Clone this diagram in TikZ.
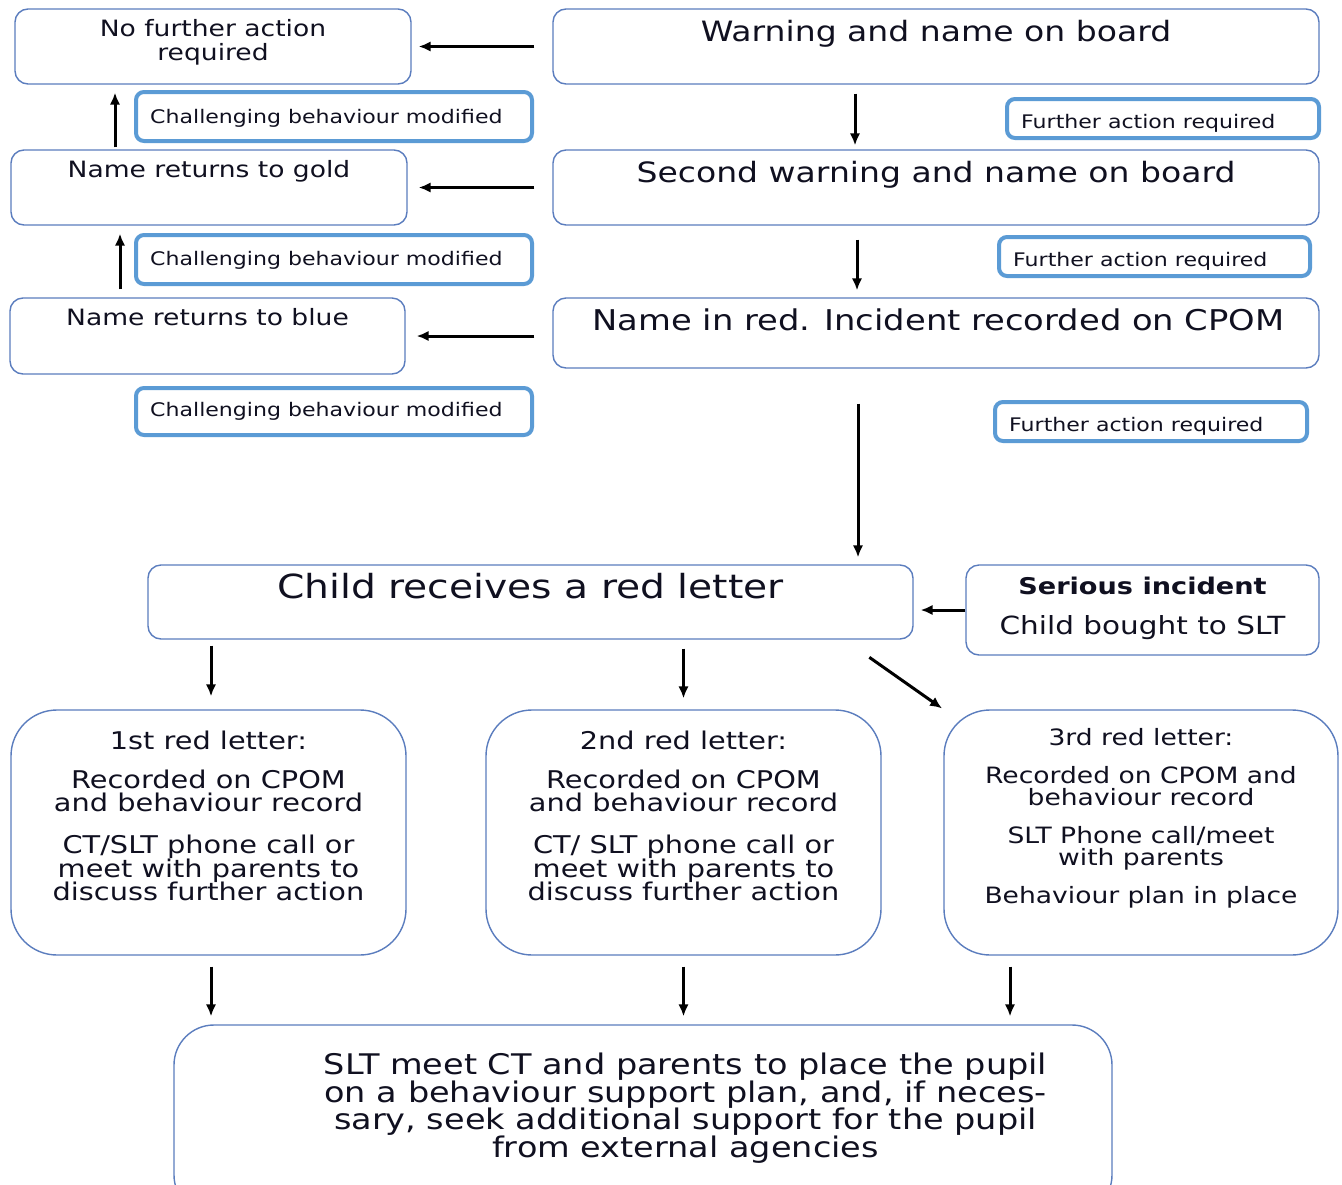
\documentclass[tikz,border=0pt]{standalone}
\usepackage{fontspec}
\setmainfont{DejaVu Sans}[FakeStretch=1.18]
\newfontfamily\plainfont{DejaVu Sans}
\usetikzlibrary{arrows.meta,positioning}
\definecolor{boxline}{HTML}{5B7DBE}
\definecolor{flagline}{HTML}{5B9BD5}
\definecolor{ink}{HTML}{101020}
\begin{document}
\lineskiplimit=-100pt
\begin{tikzpicture}[x=1pt,y=-1pt,
	box/.style={draw=boxline,line width=1.4pt,rounded corners=13pt,inner sep=0pt},
	roundbox/.style={box,rounded corners=46pt},
	flag/.style={draw=flagline,line width=4pt,rounded corners=8pt,inner sep=0pt},
	big/.style={font=\fontsize{28}{30}\selectfont,text=ink,inner sep=0pt},
	mid/.style={font=\fontsize{22.5}{23.5}\selectfont,text=ink,align=center,inner sep=0pt},
	small/.style={font=\fontsize{18.7}{20}\selectfont,text=ink,inner sep=0pt},
	arr/.style={-{Latex[length=12pt,width=10.5pt]},line width=3pt}]
	\fill[white] (0,0) rectangle (1342,1184);
	\clip (0,0) rectangle (1342,1184);
	%top ladder
	\node[box,minimum width=396pt,minimum height=75pt] (nofurther) at (213,46.5) {};
	\node[box,minimum width=766pt,minimum height=75pt] (warning) at (936,46.5) {};
	\node[box,minimum width=396pt,minimum height=75pt] (gold) at (209,187.5) {};
	\node[box,minimum width=766pt,minimum height=75pt] (second) at (936,187.5) {};
	\node[box,minimum width=395pt,minimum height=76pt] (blue) at (207.5,336) {};
	\node[box,minimum width=766pt,minimum height=70pt] (red) at (936,333) {};
	\node[mid,anchor=north] (nofurther-t) at ([yshift=-11pt]nofurther.north) {No further action\\required};
	\node[big,anchor=base] (warning-t) at ([yshift=-33pt]warning.north) {Warning and name on board};
	\node[mid,anchor=base] (gold-t) at ([yshift=-28.2pt]gold.north) {Name returns to gold};
	\node[big,anchor=base] (second-t) at ([yshift=-33pt]second.north) {Second warning and name on board};
	\node[mid,anchor=base] (blue-t) at ([yshift=-28.2pt]blue.north) {Name returns to blue};
	\node[big,font=\fontsize{28.6}{30}\selectfont,anchor=base] (red-t) at ([yshift=-33pt,xshift=2.5pt]red.north) {Name in red. Incident recorded on CPOM};
	%flags
	\node[flag,minimum width=396pt,minimum height=49pt] (modA) at (334,116.5) {};
	\node[flag,minimum width=396pt,minimum height=49pt] (modB) at (334,259.5) {};
	\node[flag,minimum width=396pt,minimum height=47pt] (modC) at (334,411.5) {};
	\node[flag,minimum width=312pt,minimum height=39pt] (furtherA) at (1163,118.5) {};
	\node[flag,minimum width=311pt,minimum height=39pt] (furtherB) at (1154.5,256.5) {};
	\node[flag,minimum width=312pt,minimum height=39pt] (furtherC) at (1151,421.5) {};
	\node[small,anchor=base west] (modA-t) at ([xshift=16pt,yshift=-7.2pt]modA.west) {Challenging behaviour modified};
	\node[small,anchor=base west] (modB-t) at ([xshift=16pt,yshift=-6.2pt]modB.west) {Challenging behaviour modified};
	\node[small,anchor=base west] (modC-t) at ([xshift=16pt,yshift=-5.2pt]modC.west) {Challenging behaviour modified};
	\node[small,anchor=base west] (furtherA-t) at ([xshift=16pt,yshift=-10.2pt]furtherA.west) {Further action required};
	\node[small,anchor=base west] (furtherB-t) at ([xshift=16pt,yshift=-10.2pt]furtherB.west) {Further action required};
	\node[small,anchor=base west] (furtherC-t) at ([xshift=16pt,yshift=-10.2pt]furtherC.west) {Further action required};
	\draw[arr,shorten <=18pt,shorten >=7pt] (warning.west) -- (nofurther.east);
	\draw[arr,shorten <=18pt,shorten >=11pt] (second.west) -- (gold.east);
	\draw[arr,shorten <=18pt,shorten >=11pt] (red.west |- blue.east) -- (blue.east);
	\draw[arr,shorten <=2pt,shorten >=8pt] ([xshift=-94pt]gold.north) -- ([xshift=-98pt]nofurther.south);
	\draw[arr,shorten <=8pt,shorten >=8pt] ([xshift=-87.5pt]blue.north) -- ([xshift=-89pt]gold.south);
	\draw[arr,shorten <=9pt,shorten >=4pt] ([xshift=-81pt]warning.south) -- ([xshift=-81pt]second.north);
	\draw[arr,shorten <=14pt,shorten >=7pt] ([xshift=-79pt]second.south) -- ([xshift=-79pt]red.north);
	%red letter
	\node[box,minimum width=765pt,minimum height=74pt] (letter) at (530.5,602) {};
	\node[box,minimum width=353pt,minimum height=90pt] (serious) at (1142.5,610) {};
	\node[big,font=\fontsize{33.2}{34}\selectfont,anchor=base] (letter-t) at ([yshift=-34pt]letter.north) {Child receives a red letter};
	\node[mid,font=\fontsize{25}{24}\selectfont,anchor=north] (serious-t) at ([yshift=-12.5pt]serious.north) {{\fontsize{23}{24}\selectfont\bfseries Serious incident}\\[16pt]Child bought to SLT};
	\draw[arr,shorten <=35pt,shorten >=7pt] ([xshift=-78pt]red.south) -- ([xshift=-78pt]red.south |- letter.north);
	\draw[arr,shorten >=7pt] (serious.west) -- (serious.west -| letter.east);
	%three letters
	\node[roundbox,minimum width=395pt,minimum height=245pt] (first) at (208.5,832.5) {};
	\node[roundbox,minimum width=395pt,minimum height=245pt] (secondl) at (683.5,832.5) {};
	\node[roundbox,minimum width=394pt,minimum height=245pt] (third) at (1141,832.5) {};
	\node[mid,font=\fontsize{24.4}{23.5}\selectfont,anchor=north] (first-t) at ([yshift=-21pt]first.north) {1st red letter:\\[15.5pt]Recorded on CPOM\\and behaviour record\\[18.5pt]CT/SLT phone call or\\meet with parents to\\discuss further action};
	\node[mid,font=\fontsize{24.4}{23.5}\selectfont,anchor=north] (secondl-t) at ([yshift=-21pt]secondl.north) {2nd red letter:\\[15.5pt]Recorded on CPOM\\and behaviour record\\[18.5pt]CT/ SLT phone call or\\meet with parents to\\discuss further action};
	\node[mid,font=\fontsize{22.5}{22}\selectfont,anchor=north] (third-t) at ([yshift=-19pt]third.north) {3rd red letter:\\[16pt]Recorded on CPOM and\\behaviour record\\[16pt]SLT Phone call/meet\\with parents\\[16pt]Behaviour plan in place};
	\draw[arr,shorten <=6pt,shorten >=13pt] ([xshift=2.5pt]letter.south -| first.north) -- ([xshift=2.5pt]first.north);
	\draw[arr,shorten <=9pt,shorten >=11pt] (letter.south -| secondl.north) -- (secondl.north);
	\draw[arr,shorten <=30.6pt,shorten >=1.5pt] ([xshift=313.8pt]letter.south) -- (third.north west);
	%bottom
	\node[box,rounded corners=40pt,minimum width=938pt,minimum height=190pt] (support) at (643,1120) {};
	\node[mid,font=\fontsize{28.4}{27.5}\selectfont] (support-t) at ([xshift=42.5pt,yshift=-84pt]support.north) {SLT meet CT and parents to place the pupil\\on a behaviour support plan, and, if neces-\\sary, seek additional support for the pupil\\from external agencies};
	\draw[arr,shorten <=11pt,shorten >=8pt] ([xshift=2.5pt]first.south) -- ([xshift=2.5pt]first.south |- support.north);
	\draw[arr,shorten <=11pt,shorten >=8pt] (secondl.south) -- (secondl.south |- support.north);
	\draw[arr,shorten <=11pt,shorten >=8pt] ([xshift=-131pt]third.south) -- ([xshift=-131pt]third.south |- support.north);
\end{tikzpicture}
\end{document}
